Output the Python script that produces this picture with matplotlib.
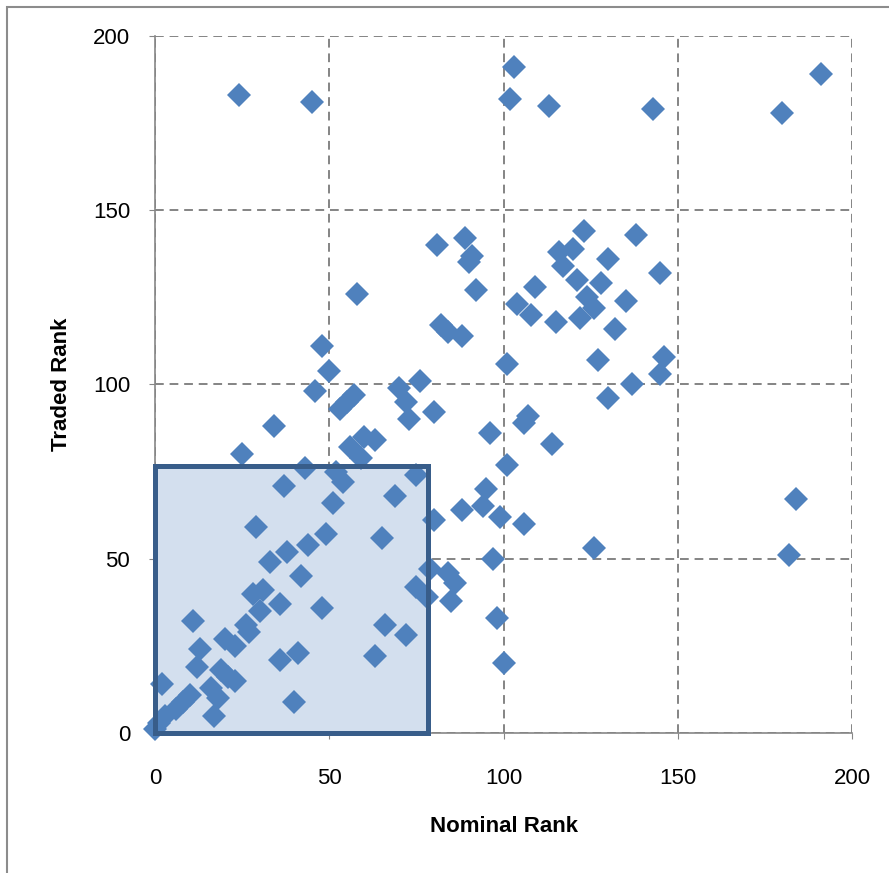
import numpy as np
import matplotlib.pyplot as plt
from matplotlib.patches import Rectangle

# nominal rank vs traded rank
nominal = [24, 45, 103, 102, 113, 143, 180, 191,
           123, 138, 116, 120, 130, 117, 145, 121, 128, 109, 104, 124, 126, 135,
           108, 115, 122, 132, 101, 127, 146, 145, 137, 130, 107, 106, 96, 114,
           81, 89, 91, 90, 92, 82, 84, 88,
           58, 48, 50, 46, 34, 25, 57, 55, 53, 70, 76, 72, 73, 80, 60, 63, 56, 59,
           43, 52, 54, 75, 37, 69, 51, 80, 88, 29, 49, 65, 44, 38, 33, 42, 31, 28,
           36, 30, 48, 26, 27, 75, 78, 79, 84, 86, 85, 66, 72, 63, 97, 98, 100,
           101, 95, 94, 99, 106, 126, 182, 184,
           11, 13, 20, 23, 12, 19, 21, 23, 2, 16, 18, 10, 8, 6, 3, 1, 0, 17, 40, 36, 41]
traded = [183, 181, 191, 182, 180, 179, 178, 189,
          144, 143, 138, 139, 136, 134, 132, 130, 129, 128, 123, 125, 122, 124,
          120, 118, 119, 116, 106, 107, 108, 103, 100, 96, 91, 89, 86, 83,
          140, 142, 137, 135, 127, 117, 115, 114,
          126, 111, 104, 98, 88, 80, 97, 95, 93, 99, 101, 95, 90, 92, 85, 84, 82, 79,
          76, 75, 72, 74, 71, 68, 66, 61, 64, 59, 57, 56, 54, 52, 49, 45, 41, 40,
          37, 35, 36, 31, 29, 42, 39, 47, 46, 43, 38, 31, 28, 22, 50, 33, 20,
          77, 70, 65, 62, 60, 53, 51, 67,
          32, 24, 27, 25, 19, 18, 16, 15, 14, 13, 10, 11, 9, 7, 5, 3, 1, 5, 9, 21, 23]

box_x, box_y = 78.3, 76.6
ticks = [0, 50, 100, 150, 200]

plt.rcParams['font.family'] = ['Liberation Sans', 'DejaVu Sans']

fig = plt.figure(figsize=(8.89, 8.73), dpi=100)
ax = fig.add_axes([0.1744, 0.1604, 0.7840, 0.7984])

# outer chart border
fig.patches.append(Rectangle((0.008, -0.1), 1.2, 1.092, transform=fig.transFigure,
                             fill=False, edgecolor='#8c8c8c', linewidth=1.5))

# highlighted box
ax.add_patch(Rectangle((0, 0), box_x, box_y, facecolor='#d3dfee',
                       edgecolor='none', zorder=1, clip_on=False))
ax.add_patch(Rectangle((0, 0), box_x, box_y, fill=False,
                       edgecolor='#385d8a', linewidth=3.6, zorder=4, clip_on=False))

ax.plot(nominal, traded, linestyle='none', marker='D', markersize=12.5,
        color='#4f81bd', markeredgewidth=0, zorder=3, clip_on=False)

ax.set_xlim(0, 200)
ax.set_ylim(0, 200)
ax.set_xticks(ticks)
ax.set_yticks(ticks)
ax.grid(True, color='#848484', linestyle=(0, (4.5, 3)), linewidth=1.4, zorder=0)
ax.set_axisbelow(True)
for s in ['top', 'right']:
    ax.spines[s].set_visible(False)
for s in ['left', 'bottom']:
    ax.spines[s].set_color('#868686')
    ax.spines[s].set_linewidth(1.2)
ax.tick_params(axis='both', length=4, color='#868686', labelsize=16)
ax.tick_params(axis='x', pad=21)
ax.tick_params(axis='y', pad=14)

ax.set_xlabel('Nominal Rank', fontsize=16, fontweight='bold', labelpad=20)
ax.set_ylabel('Traded Rank', fontsize=16, fontweight='bold', labelpad=15)

plt.savefig('out.png', dpi=100)
